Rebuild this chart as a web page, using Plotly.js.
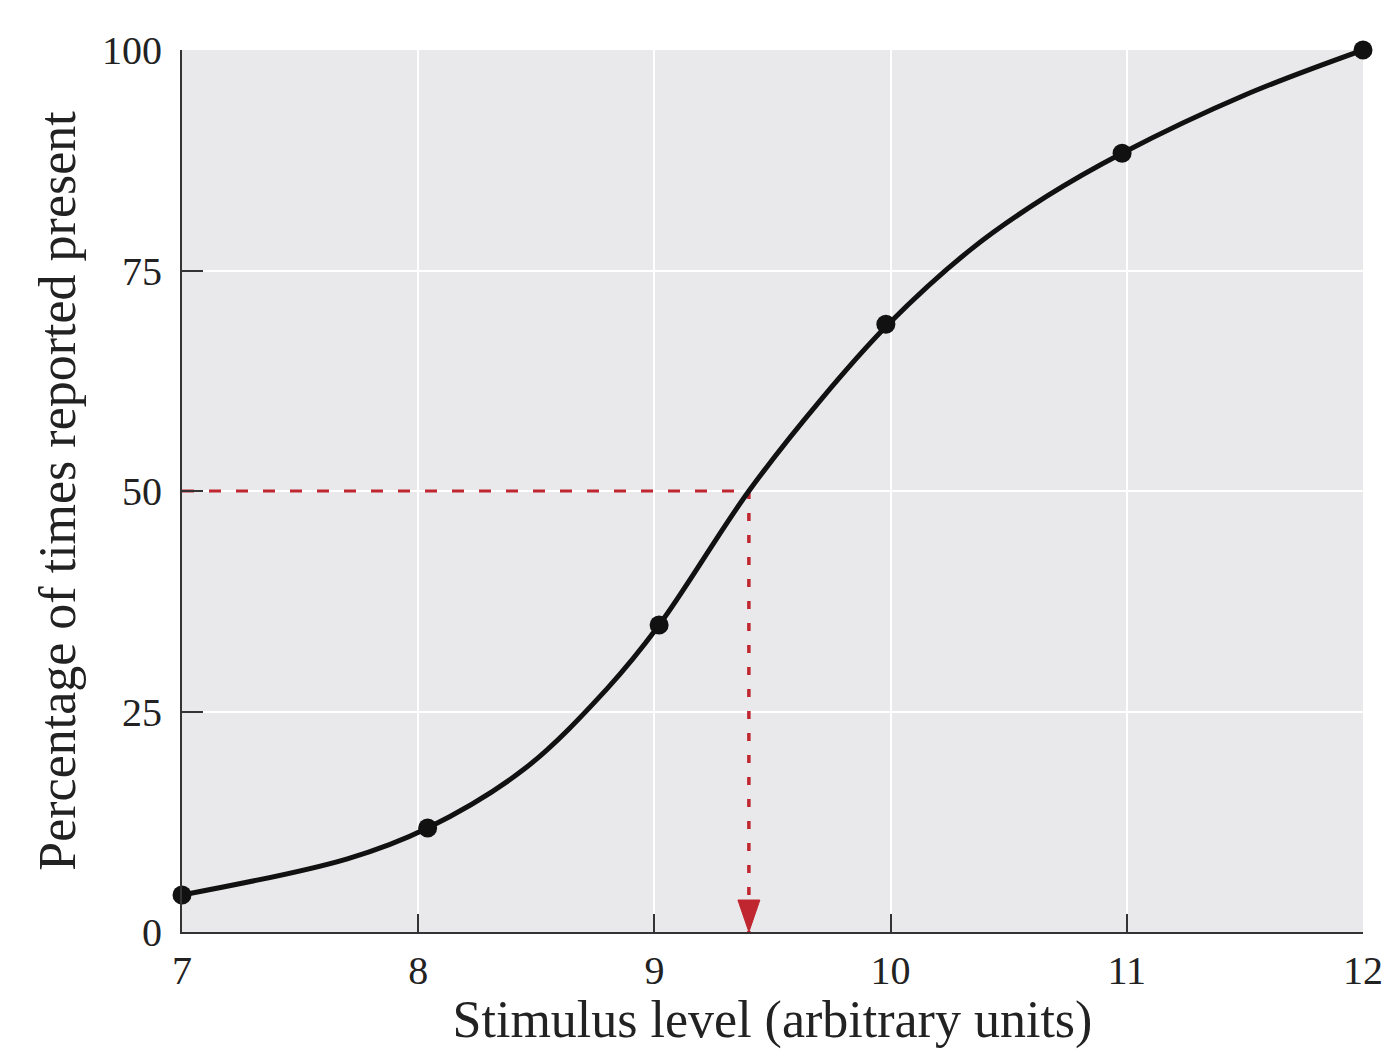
<!DOCTYPE html>
<html>
<head>
<meta charset="utf-8">
<script src="https://cdn.plot.ly/plotly-3.0.1.min.js"></script>
<style>
  html, body { margin: 0; padding: 0; background: #ffffff; }
  #chart { width: 1388px; height: 1049px; }
</style>
</head>
<body>
<div id="chart"></div>
<script>
// Measured data points (stimulus level, % reported present)
const stimulus = [7.0, 8.04, 9.02, 9.98, 10.98, 12.0];
const percent  = [4.2, 11.8, 34.8, 68.9, 88.3, 100];

// Fitted curve
const curveX = [7.0, 7.70, 8.04, 8.45, 8.80, 9.02, 9.40, 9.70, 9.99, 10.34, 10.66, 10.98, 11.50, 12.0];
const curveY = [4.2, 8.3, 11.8, 18.5, 27.6, 34.8, 50.0, 60.2, 68.9, 77.4, 83.4, 88.3, 94.9, 100];

// Threshold (50% point)
const thresholdX = 9.4;
const thresholdY = 50;

const xTicks = [7, 8, 9, 10, 11, 12];
const yTicks = [0, 25, 50, 75, 100];

const xTitle = 'Stimulus level (arbitrary units)';
const yTitle = 'Percentage of times reported present';

const red = '#c0262f';
const serif = '"Liberation Serif", "DejaVu Serif", serif';

const traces = [
  { // horizontal dashed guide
    x: [xTicks[0], thresholdX], y: [thresholdY, thresholdY],
    mode: 'lines', line: { color: red, width: 3, dash: '12px,15px' },
    hoverinfo: 'skip', showlegend: false, cliponaxis: false
  },
  { // vertical dashed guide
    x: [thresholdX, thresholdX], y: [thresholdY, yTicks[0]],
    mode: 'lines', line: { color: red, width: 3.5, dash: '8px,14px' },
    hoverinfo: 'skip', showlegend: false
  },
  { // curve
    x: curveX, y: curveY, mode: 'lines',
    line: { color: '#111111', width: 5, shape: 'spline', smoothing: 1.0 },
    hoverinfo: 'skip', showlegend: false, cliponaxis: false
  },
  { // data points
    x: stimulus, y: percent, mode: 'markers',
    marker: { color: '#111111', size: 19 },
    showlegend: false, cliponaxis: false
  }
];

const layout = {
  width: 1388, height: 1049,
  margin: { l: 182, r: 25, t: 50, b: 117 },
  paper_bgcolor: '#ffffff',
  plot_bgcolor: '#e9e9eb',
  font: { family: serif, color: '#222222' },
  xaxis: {
    range: [7, 12], tickvals: xTicks, ticktext: xTicks.map(String),
    showline: true, linecolor: '#333333', linewidth: 2,
    ticks: 'inside', ticklen: 18, tickwidth: 2, tickcolor: '#333333',
    showgrid: true, gridcolor: '#ffffff', gridwidth: 2,
    zeroline: false, tickfont: { size: 40, family: serif, color: '#222222' },
    ticklabelstandoff: 2,
    title: { text: xTitle, font: { size: 52, family: serif, color: '#222222' }, standoff: 2 },
    automargin: false, fixedrange: true
  },
  yaxis: {
    range: [0, 100], tickvals: yTicks, ticktext: yTicks.map(String),
    showline: true, linecolor: '#333333', linewidth: 2,
    ticks: 'inside', ticklen: 21, tickwidth: 2, tickcolor: '#333333',
    showgrid: true, gridcolor: '#ffffff', gridwidth: 2,
    zeroline: false, tickfont: { size: 40, family: serif, color: '#222222' },
    ticklabelstandoff: 10,
    title: { text: yTitle, font: { size: 52, family: serif, color: '#222222' }, standoff: 10 },
    automargin: false, fixedrange: true
  },
  shapes: [
    { // arrow head at the threshold on the x axis
      type: 'path', xref: 'x', yref: 'y',
      xsizemode: 'pixel', ysizemode: 'pixel',
      xanchor: thresholdX, yanchor: yTicks[0],
      path: 'M -11,32 L 11,32 L 0,0 Z',
      fillcolor: red, line: { color: red, width: 1 }, layer: 'above'
    }
  ]
};

Plotly.newPlot('chart', traces, layout, { displayModeBar: false, staticPlot: true });
</script>
</body>
</html>
